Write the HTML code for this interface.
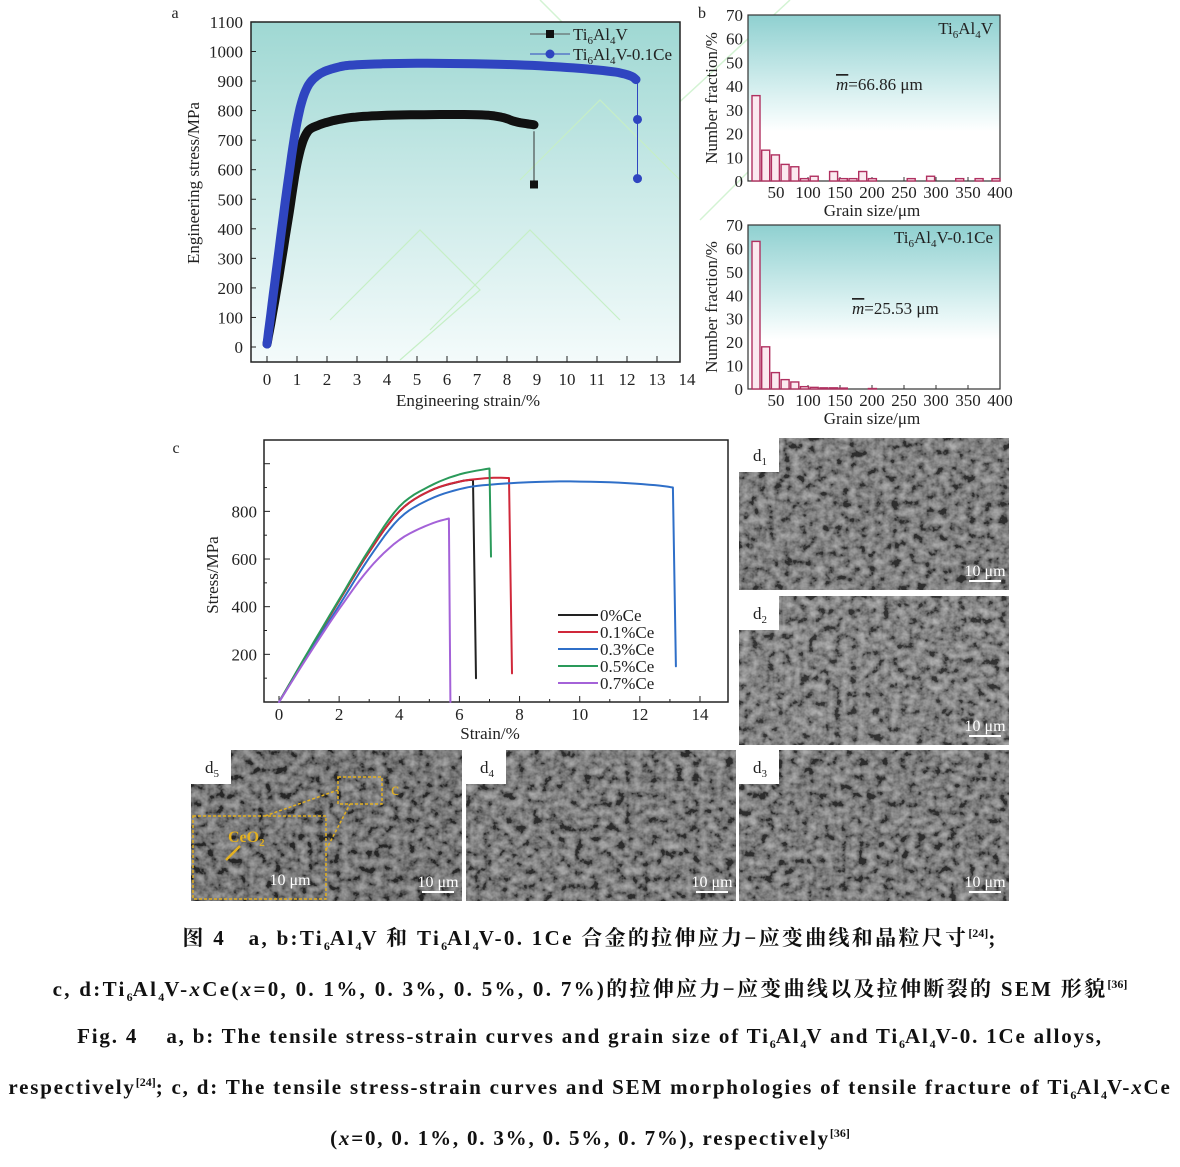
<!DOCTYPE html>
<html><head><meta charset="utf-8"><style>
html,body{margin:0;padding:0;background:#fff;}
body{width:1180px;height:1167px;overflow:hidden;position:relative;font-family:"Liberation Serif","Noto Serif CJK SC",serif;}
.cap{position:absolute;left:0;width:1180px;text-align:center;font-weight:bold;font-size:21px;letter-spacing:1.8px;color:#111;white-space:nowrap;}
.zh{letter-spacing:2.3px;}
sub,sup{font-size:12px;letter-spacing:0;}
</style></head><body>
<svg id="s" width="1180" height="910" style="position:absolute;left:0;top:0" font-family="Liberation Serif, serif">
<defs>
<linearGradient id="ga" x1="0" y1="0" x2="0" y2="1"><stop offset="0" stop-color="#9fd8d3"/><stop offset="0.5" stop-color="#cbeae8"/><stop offset="1" stop-color="#f4fbfb"/></linearGradient>
<linearGradient id="gb" x1="0" y1="0" x2="0" y2="1"><stop offset="0" stop-color="#8fd0d0"/><stop offset="0.55" stop-color="#e6f6f6"/><stop offset="0.7" stop-color="#fff"/></linearGradient>
<filter id="nz" x="0" y="0" width="1" height="1"><feTurbulence type="fractalNoise" baseFrequency="0.12" numOctaves="3" seed="3"/><feColorMatrix type="saturate" values="0"/><feComponentTransfer><feFuncR type="linear" slope="2.2" intercept="-0.75"/><feFuncG type="linear" slope="2.2" intercept="-0.75"/><feFuncB type="linear" slope="2.2" intercept="-0.75"/><feFuncA type="linear" slope="0" intercept="1"/></feComponentTransfer></filter>
</defs>
<g id="g"></g>
</svg>
<div class="cap zh" style="top:922px">图 4&nbsp;&nbsp; a, b:Ti<sub>6</sub>Al<sub>4</sub>V 和 Ti<sub>6</sub>Al<sub>4</sub>V-0. 1Ce 合金的拉伸应力−应变曲线和晶粒尺寸<sup>[24]</sup>;</div>
<div class="cap zh" style="top:973px">c, d:Ti<sub>6</sub>Al<sub>4</sub>V-<i>x</i>Ce(<i>x</i>=0, 0. 1%, 0. 3%, 0. 5%, 0. 7%)的拉伸应力−应变曲线以及拉伸断裂的 SEM 形貌<sup>[36]</sup></div>
<div class="cap" style="top:1024px">Fig. 4&nbsp;&nbsp;&nbsp; a, b: The tensile stress-strain curves and grain size of Ti<sub>6</sub>Al<sub>4</sub>V and Ti<sub>6</sub>Al<sub>4</sub>V-0. 1Ce alloys,</div>
<div class="cap" style="top:1075px">respectively<sup>[24]</sup>; c, d: The tensile stress-strain curves and SEM morphologies of tensile fracture of Ti<sub>6</sub>Al<sub>4</sub>V-<i>x</i>Ce</div>
<div class="cap" style="top:1126px">(<i>x</i>=0, 0. 1%, 0. 3%, 0. 5%, 0. 7%), respectively<sup>[36]</sup></div>
<script>
var h='';
function T(x,y,t,o){o=o||{};h+='<text x="'+x+'" y="'+y+'" font-size="'+(o.fs||17)+'" text-anchor="'+(o.a||'middle')+'" fill="'+(o.c||'#222')+'"'+(o.tr?' transform="'+o.tr+'"':'')+'>'+t+'</text>';}
function P(pts,c,w){h+='<path d="M'+pts.map(p=>p[0].toFixed(1)+','+p[1].toFixed(1)).join('L')+'" fill="none" stroke="'+c+'" stroke-width="'+w+'" stroke-linejoin="round" stroke-linecap="round"/>';}
function spline(pts,n){var out=[];for(var i=0;i<pts.length-1;i++){var p0=pts[Math.max(i-1,0)],p1=pts[i],p2=pts[i+1],p3=pts[Math.min(i+2,pts.length-1)];for(var k=0;k<n;k++){var t=k/n,t2=t*t,t3=t2*t;out.push([0.5*(2*p1[0]+(-p0[0]+p2[0])*t+(2*p0[0]-5*p1[0]+4*p2[0]-p3[0])*t2+(-p0[0]+3*p1[0]-3*p2[0]+p3[0])*t3),0.5*(2*p1[1]+(-p0[1]+p2[1])*t+(2*p0[1]-5*p1[1]+4*p2[1]-p3[1])*t2+(-p0[1]+3*p1[1]-3*p2[1]+p3[1])*t3)]);}}out.push(pts[pts.length-1]);return out;}
h+='<g stroke="#c8f0c8" stroke-width="1.5" fill="none" opacity="0.8"><path d="M540 0 L660 120 L790 0 M700 220 L860 60"/></g>';
// ===== Panel a =====
var ax0=267,axu=30,ay0=347,ayu=0.2955;
function A(x,y){return [ax0+x*axu,ay0-y*ayu];}
h+='<rect x="251" y="22" width="429" height="340" fill="url(#ga)"/>';
h+='<g stroke="#c6efc6" stroke-width="1.2" fill="none"><path d="M330 320 L420 230 L480 290 L400 360 M430 330 L530 230 L620 320 M520 180 L600 100 L680 180"/></g>';
h+='<rect x="251" y="22" width="429" height="340" fill="none" stroke="#222" stroke-width="1.5"/>';
T(175,18,'a',{fs:16});
for(var i=0;i<=11;i++){var y=ay0-i*100*ayu;T(243,y+6,i*100,{a:'end'});h+='<line x1="251" y1="'+y+'" x2="256" y2="'+y+'" stroke="#222"/>';}
for(var i=0;i<=14;i++){var x=ax0+i*axu;T(x,385,i);if(x<680)h+='<line x1="'+x+'" y1="362" x2="'+x+'" y2="356" stroke="#222"/>';}
T(468,406,'Engineering strain/%');
T(199,183,'Engineering stress/MPa',{tr:'rotate(-90 199 183)'});
var bk=spline([[0,10],[0.3,180],[0.7,430],[1,620],[1.3,720],[1.7,750],[2.5,772],[3.5,782],[5,786],[7,786],[7.8,778],[8.3,762],[8.9,752]].map(p=>A(p[0],p[1])),8);
P(bk,'#111',9);
var bl=spline([[0,10],[0.3,250],[0.7,560],[1,760],[1.3,870],[1.7,920],[2.3,945],[3,955],[5,960],[8,956],[10,946],[11.5,932],[12.1,918],[12.3,905]].map(p=>A(p[0],p[1])),8);
P(bl,'#2f45c0',9);
var q=A(8.9,730),q2=A(8.9,550);h+='<line x1="'+q[0]+'" y1="'+q[1]+'" x2="'+q2[0]+'" y2="'+q2[1]+'" stroke="#333"/><rect x="'+(q2[0]-4)+'" y="'+(q2[1]-4)+'" width="8" height="8" fill="#111"/>';
q=A(12.35,895);q2=A(12.35,570);h+='<line x1="'+q[0]+'" y1="'+q[1]+'" x2="'+q2[0]+'" y2="'+q2[1]+'" stroke="#2f45c0"/>';
[770,570].forEach(v=>{var p=A(12.35,v);h+='<circle cx="'+p[0]+'" cy="'+p[1]+'" r="4.5" fill="#2f45c0"/>';});
h+='<line x1="530" y1="34" x2="570" y2="34" stroke="#555"/><rect x="546" y="30" width="8" height="8" fill="#111"/>';
h+='<text x="573" y="40" font-size="17" fill="#222">Ti<tspan font-size="11" dy="4">6</tspan><tspan dy="-4">Al</tspan><tspan font-size="11" dy="4">4</tspan><tspan dy="-4">V</tspan></text>';
h+='<line x1="530" y1="54" x2="570" y2="54" stroke="#2f45c0"/><circle cx="550" cy="54" r="4.5" fill="#2f45c0"/>';
h+='<text x="573" y="60" font-size="17" fill="#222">Ti<tspan font-size="11" dy="4">6</tspan><tspan dy="-4">Al</tspan><tspan font-size="11" dy="4">4</tspan><tspan dy="-4">V-0.1Ce</tspan></text>';
// ===== Panel b =====
function hist(top,bot,vals,label,m){
 var x0=748,x1=1000,yu=(bot-top)/70;
 h+='<rect x="'+x0+'" y="'+top+'" width="'+(x1-x0)+'" height="'+(bot-top)+'" fill="url(#gb)" stroke="#333" stroke-width="1.2"/>';
 for(var i=0;i<=7;i++){var y=bot-i*10*yu;T(743,y+6,i*10,{a:'end'});}
 for(var i=1;i<=8;i++){var x=744+i*50*0.64;T(x,bot+17,i*50);h+='<line x1="'+x+'" y1="'+bot+'" x2="'+x+'" y2="'+(bot-4)+'" stroke="#333"/>';}
 vals.forEach((v,i)=>{if(v<=0)return;var x=752+i*9.7;if(x>992)x=992;h+='<rect x="'+x+'" y="'+(bot-v*yu)+'" width="8" height="'+(v*yu)+'" fill="#fbe9ef" stroke="#b03060" stroke-width="1.4"/>';});
 T(872,bot+35,'Grain size/μm');
 T(717,(top+bot)/2,'Number fraction/%',{tr:'rotate(-90 717 '+((top+bot)/2)+')'});
 h+=label;
 h+='<text x="'+(top<100?836:852)+'" y="'+(top<100?90:314)+'" font-size="17" fill="#222"><tspan font-style="italic" text-decoration="overline">m</tspan>='+m+' μm</text>';
}
T(702,18,'b',{fs:16});
hist(15,181,[36,13,11,7,6,1,2,0,4,1,1,4,1,0,0,0,1,0,2,0,0,1,0,1,0,1],'<text x="993" y="34" font-size="17" text-anchor="end" fill="#222">Ti<tspan font-size="11" dy="4">6</tspan><tspan dy="-4">Al</tspan><tspan font-size="11" dy="4">4</tspan><tspan dy="-4">V</tspan></text>','66.86');
hist(225,389,[63,18,7,4,3,1,0.7,0.5,0.5,0.4,0,0,0.2],'<text x="993" y="243" font-size="17" text-anchor="end" fill="#222">Ti<tspan font-size="11" dy="4">6</tspan><tspan dy="-4">Al</tspan><tspan font-size="11" dy="4">4</tspan><tspan dy="-4">V-0.1Ce</tspan></text>','25.53');
// ===== Panel c =====
var cx0=279,cxu=30.07,cy0=702,cyu=0.2383;
function C(x,y){return [cx0+x*cxu,cy0-y*cyu];}
T(176,453,'c',{fs:16});
h+='<rect x="264" y="440" width="464" height="262" fill="#fff" stroke="#222" stroke-width="1.5"/>';
for(var i=0;i<=7;i++){var x=cx0+i*2*cxu;T(x,720,i*2);h+='<line x1="'+x+'" y1="702" x2="'+x+'" y2="696" stroke="#222"/>';var xm=x+cxu;if(xm<728)h+='<line x1="'+xm+'" y1="702" x2="'+xm+'" y2="699" stroke="#222"/>';}
for(var v=100;v<=1000;v+=100){var y=cy0-v*cyu;h+='<line x1="264" y1="'+y+'" x2="'+(v%200?267:270)+'" y2="'+y+'" stroke="#222"/>';if(v%200==0&&v<=800)T(257,y+6,v,{a:'end'});}
T(490,739,'Strain/%');
T(218,575,'Stress/MPa',{tr:'rotate(-90 218 575)'});
function cv(pts,fx,fy,c){var s=spline(pts.map(p=>C(p[0],p[1])),6);var e=C(fx,fy);s.push(e);P(s,c,2);}
cv([[0,0],[1,215],[2,425],[3,630],[4,800],[5,885],[6,925],[6.45,932]],6.55,100,'#222');
cv([[0,0],[1,215],[2,425],[3,630],[4,800],[5,885],[6,925],[7,940],[7.65,940]],7.75,120,'#d0283a');
cv([[0,0],[1,205],[2,405],[3,605],[4,770],[5,850],[6,893],[7,912],[9,925],[11,922],[12.5,910],[13.1,900]],13.2,150,'#2f6fc8');
cv([[0,0],[1,218],[2,430],[3,640],[4,820],[5,905],[6,955],[7,980]],7.05,610,'#2a9a5a');
cv([[0,0],[1,200],[2,390],[3,560],[4,680],[5,745],[5.65,770]],5.7,0,'#a462d8');
var lg=[['0%Ce','#222'],['0.1%Ce','#d0283a'],['0.3%Ce','#2f6fc8'],['0.5%Ce','#2a9a5a'],['0.7%Ce','#a462d8']];
lg.forEach((l,i)=>{var y=615+i*17;h+='<line x1="558" y1="'+y+'" x2="598" y2="'+y+'" stroke="'+l[1]+'" stroke-width="2"/>';T(600,y+6,l[0],{a:'start'});});
// ===== SEM images =====
function sem(x,y,w,hh,sub,base){
 h+='<rect x="'+x+'" y="'+y+'" width="'+w+'" height="'+hh+'" fill="'+base+'"/>';
 h+='<rect x="'+x+'" y="'+y+'" width="'+w+'" height="'+hh+'" filter="url(#nz)" opacity="0.5"/>';
 h+='<rect x="'+x+'" y="'+y+'" width="40" height="34" fill="#fff"/>';
 h+='<text x="'+(x+14)+'" y="'+(y+23)+'" font-size="17" fill="#222">d<tspan font-size="11" dy="4">'+sub+'</tspan></text>';
 T(x+w-24,y+hh-14,'10 μm',{fs:16,c:'#fff'});
 h+='<line x1="'+(x+w-40)+'" y1="'+(y+hh-9)+'" x2="'+(x+w-8)+'" y2="'+(y+hh-9)+'" stroke="#fff" stroke-width="2"/>';
}
sem(739,438,270,152,1,'#5e5e5e');
sem(739,596,270,149,2,'#686868');
sem(191,750,271,151,5,'#4e4e4e');
sem(466,750,270,151,4,'#5a5a5a');
sem(739,750,270,151,3,'#5c5c5c');
h+='<rect x="193" y="816" width="133" height="83" fill="none" stroke="#e3b020" stroke-width="1.5" stroke-dasharray="3,2"/>';
h+='<rect x="338" y="777" width="44" height="27" fill="none" stroke="#e3b020" stroke-width="1.5" stroke-dasharray="3,2"/>';
h+='<path d="M265 816 L338 790 M326 850 L350 804" stroke="#e3b020" stroke-width="1.5" stroke-dasharray="3,2"/>';
T(395,795,'c',{fs:18,c:'#e3b020'});
h+='<text x="228" y="842" font-size="16" font-weight="bold" fill="#e3b020">CeO<tspan font-size="11" dy="4">2</tspan></text>';
h+='<path d="M240 846 L226 860" stroke="#e3b020" stroke-width="2.5"/>';
T(290,885,'10 μm',{fs:16,c:'#fff'});
document.getElementById('g').innerHTML=h;
</script>
</body></html>
